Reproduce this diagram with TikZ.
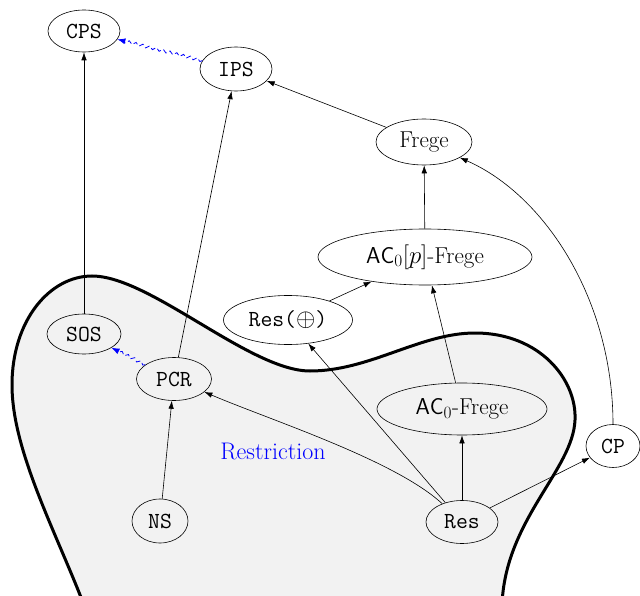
\documentclass[tikz,border=0pt]{standalone}
\usepackage{fontspec}
\usetikzlibrary{shapes.geometric,arrows.meta,decorations.pathmorphing}
\tikzset{
  nd/.style={draw, ellipse, inner sep=0pt, line width=0.6pt, font=\fontsize{23}{26}\selectfont},
  tnd/.style={nd, font=\fontsize{23}{26}\selectfont\ttfamily},
  arr/.style={-{Latex[length=8pt,width=5.5pt]}, line width=0.6pt},
  wavy/.style={blue, line width=0.8pt, dash pattern=on 5pt off 3pt, decorate,
    decoration={snake, amplitude=1.5pt, segment length=7pt, post length=6pt},
    -{Latex[length=8pt,width=6pt]}},
  region/.style={line width=3pt, fill=black!5},
}
\begin{document}
\begin{tikzpicture}[x=1pt,y=-1pt]
\useasboundingbox (0,0) rectangle (640,596);

% the shaded region
\draw[region] (84,605) .. controls (55,530) and (12,450) .. (12,385)
  .. controls (12,320) and (50,276) .. (92,276)
  .. controls (150,276) and (250,371) .. (310,371)
  .. controls (370,371) and (420,333) .. (475,333)
  .. controls (540,333) and (577,380) .. (575,420)
  .. controls (573,470) and (505,520) .. (502,605) -- cycle;

% systems
\node[tnd, minimum width=72pt, minimum height=42pt] (CPS) at (84,31) {CPS};
\node[tnd, minimum width=72pt, minimum height=44pt] (IPS) at (236,69) {IPS};
\node[nd, minimum width=96pt, minimum height=46pt] (Frege) at (424,142) {Frege};
\node[nd, minimum width=214pt, minimum height=56pt] (ACp) at (425,257) {$\mathsf{AC}_0[p]$-Frege};
\node[tnd, minimum width=129pt, minimum height=49pt] (ResX) at (288,320) {Res($\oplus$)};
\node[tnd, minimum width=74pt, minimum height=40pt] (SOS) at (84,334) {SOS};
\node[tnd, minimum width=75pt, minimum height=43pt] (PCR) at (174,379) {PCR};
\node[nd, minimum width=170pt, minimum height=52pt] (ACF) at (462,409) {$\mathsf{AC}_0$-Frege};
\node[tnd, minimum width=54pt, minimum height=43pt] (CP) at (613,446) {CP};
\node[tnd, minimum width=72pt, minimum height=43pt] (Res) at (462,522) {Res};
\node[tnd, minimum width=56pt, minimum height=44pt] (NS) at (160,521) {NS};

\node[text=blue, font=\fontsize{24}{26}\selectfont] (lbl) at (273,451) {Restriction};

% simulations
\draw[arr] (SOS) -- (CPS);
\draw[wavy] (IPS) -- (CPS);
\draw[arr] (Frege) -- (IPS);
\draw[arr] (PCR) -- (IPS);
\draw[arr] (ACp) -- (Frege);
\draw[arr] (CP) .. controls (613,300) and (545,195) .. (Frege);
\draw[arr] (ResX) -- (ACp);
\draw[arr] (ACF) -- (ACp);
\draw[arr] (Res) -- (ACF);
\draw[arr] (Res) -- (ResX);
\draw[arr] (Res) .. controls (395,460) and (270,420) .. (PCR);
\draw[arr] (Res) -- (CP);
\draw[arr] (NS) -- (PCR);
\draw[wavy] (PCR) -- (SOS);
\end{tikzpicture}
\end{document}
